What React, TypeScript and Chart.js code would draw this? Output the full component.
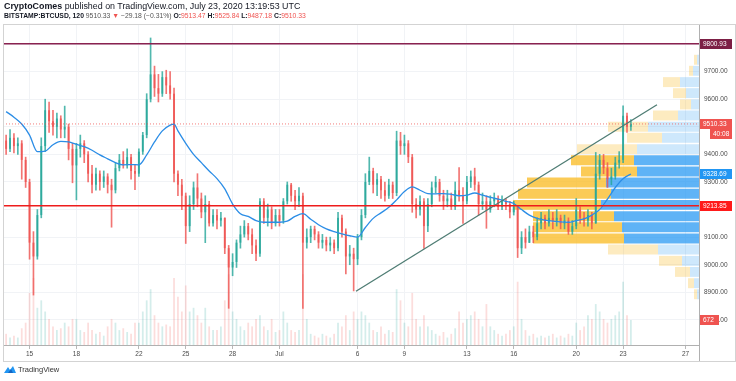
import React, { useEffect, useRef } from 'react';
import { Chart, registerables } from 'chart.js';

Chart.register(...registerables);

const FONT = '"Liberation Sans", Arial, sans-serif';

// ---- time axis (day numbers, June 1 = 1, July 1 = 31) ----
const xMin = 13.3;
const xMax = 57.86;
const dateTickDays = [15, 18, 22, 25, 28, 31, 36, 39, 43, 46, 50, 53, 57];
const dateTickLabels = ['15', '18', '22', '25', '28', 'Jul', '6', '9', '13', '16', '20', '23', '27'];

// ---- price axis ----
const yMin = 8709;
const yMax = 9869;
const priceTicks = [8800, 8900, 9000, 9100, 9200, 9300, 9400, 9500, 9600, 9700, 9800];
const hiddenPriceTicks = [9200, 9500, 9800];

// ---- candles (6h) ----
const candleStartDay = 13.5;
const candleStepDays = 0.25;
const firstOpen = 9450;
const closes = [
  9420, 9460,
  9430, 9440, 9380, 9300,
  9080, 9030, 9180, 9430,
  9560, 9520, 9500, 9530,
  9490, 9500, 9420, 9360,
  9420, 9440, 9400, 9330,
  9290, 9330, 9300, 9320,
  9290, 9270, 9350, 9380,
  9360, 9390, 9340, 9330,
  9410, 9470, 9600, 9690,
  9640, 9620, 9680, 9650,
  9620, 9330, 9290, 9250,
  9140, 9220, 9280, 9240,
  9190, 9220, 9150, 9180,
  9160, 9170, 9060, 8990,
  9010, 9080, 9110, 9140,
  9110, 9070, 9040, 9230,
  9170, 9200, 9150, 9180,
  9160, 9230, 9290, 9250,
  9230, 9250, 9080, 9100,
  9130, 9110, 9080, 9090,
  9070, 9080, 9060, 9170,
  9120, 9030, 9040, 9020,
  9100, 9180, 9300, 9340,
  9290, 9310, 9270, 9250,
  9290, 9260, 9450, 9430,
  9440, 9390, 9220, 9200,
  9230, 9140, 9220, 9280,
  9300, 9250, 9230, 9240,
  9210, 9270, 9250, 9230,
  9300, 9320, 9290, 9220,
  9230, 9200, 9230, 9240,
  9210, 9230, 9220, 9190,
  9210, 9060, 9100, 9080,
  9120, 9100, 9150, 9170,
  9150, 9170, 9160, 9170,
  9150, 9160, 9120, 9140,
  9200, 9170, 9160, 9180,
  9150, 9330, 9380, 9350,
  9310, 9320, 9370, 9380,
  9540, 9500, 9510.33,
];
const highs = [
  9470, 9490,
  9475, 9460, 9450, 9390,
  9310, 9120, 9200, 9460,
  9600, 9590, 9560, 9550,
  9540, 9575, 9510, 9440,
  9440, 9470, 9450, 9410,
  9360, 9350, 9340, 9340,
  9330, 9310, 9370, 9400,
  9410, 9420, 9400, 9360,
  9420, 9480, 9620, 9822,
  9720, 9690, 9700, 9705,
  9700, 9640, 9340, 9310,
  9260, 9250, 9300, 9330,
  9260, 9250, 9230, 9200,
  9200, 9190, 9170, 9070,
  9040, 9090, 9140, 9160,
  9150, 9130, 9090, 9240,
  9240, 9220, 9210, 9200,
  9200, 9240, 9300, 9295,
  9270, 9280, 9260, 9130,
  9140, 9140, 9120, 9110,
  9100, 9100, 9090, 9190,
  9180, 9130, 9070, 9060,
  9110, 9200, 9330, 9390,
  9350, 9330, 9320, 9300,
  9310, 9300, 9484, 9480,
  9470, 9450, 9400, 9240,
  9250, 9240, 9240, 9300,
  9320, 9310, 9270, 9270,
  9260, 9300, 9352, 9280,
  9320, 9340, 9350, 9300,
  9260, 9250, 9250, 9260,
  9250, 9250, 9240, 9230,
  9230, 9210, 9120, 9130,
  9140, 9140, 9170, 9190,
  9180, 9200, 9190, 9200,
  9180, 9180, 9170, 9160,
  9240, 9210, 9190, 9200,
  9190, 9407, 9400, 9400,
  9370, 9350, 9390, 9410,
  9576, 9550, 9525.84,
];
const lows = [
  9400, 9410,
  9405, 9400, 9310, 9280,
  9020, 8890, 9020, 9170,
  9410, 9480, 9470, 9460,
  9460, 9460, 9380, 9297,
  9235, 9390, 9370, 9300,
  9260, 9270, 9270, 9280,
  9260, 9136, 9260, 9340,
  9350, 9350, 9310, 9272,
  9320, 9400, 9460, 9590,
  9610, 9590, 9610, 9620,
  9600, 9300, 9250, 9200,
  9077, 9120, 9200, 9210,
  9170, 9080, 9140, 9140,
  9130, 9140, 9040, 8842,
  8960, 8990, 9060, 9100,
  9090, 9040, 9015, 9030,
  9150, 9140, 9130, 9140,
  9140, 9150, 9220, 9230,
  9200, 9210, 8842, 9060,
  9080, 9090, 9060, 9060,
  9050, 9050, 9040, 9050,
  9100, 8967, 9000, 8905,
  9000, 9090, 9170, 9290,
  9260, 9250, 9240, 9230,
  9240, 9240, 9250, 9400,
  9400, 9370, 9190, 9170,
  9180, 9059, 9120, 9210,
  9260, 9230, 9200, 9210,
  9200, 9200, 9230, 9150,
  9220, 9280, 9270, 9180,
  9200, 9132, 9190, 9210,
  9200, 9200, 9200, 9170,
  9180, 9026, 9040, 9060,
  9080, 9080, 9090, 9130,
  9130, 9140, 9130, 9140,
  9130, 9130, 9110, 9110,
  9130, 9150, 9140, 9140,
  9130, 9150, 9310, 9330,
  9280, 9290, 9310, 9350,
  9370, 9480, 9487.18,
];
const volumes = [
  300, 200,
  250, 200, 450, 600,
  1400, 1800, 1000, 1200,
  900, 700, 500, 400,
  450, 600, 500, 700,
  700, 400, 350, 600,
  400, 300, 350, 250,
  500, 700, 600, 400,
  450, 350, 300, 600,
  600, 900, 1200, 1500,
  800, 600, 500, 550,
  500, 1800, 1300, 900,
  1600, 900, 1000, 800,
  600, 1000, 500, 400,
  400, 500, 1200, 1900,
  900, 700, 500, 400,
  600, 500, 700, 800,
  500, 400, 700, 350,
  400, 900, 600, 400,
  350, 400, 1900, 700,
  300, 250, 200, 300,
  250, 200, 300, 600,
  500, 800, 400, 900,
  700, 900, 800, 600,
  400, 350, 500, 300,
  400, 350, 1500, 1200,
  600, 500, 1400, 700,
  500, 800, 500, 400,
  300, 250, 350, 200,
  300, 450, 900, 600,
  700, 800, 900, 700,
  500, 1100, 500, 400,
  300, 250, 300, 400,
  500, 1700, 700, 400,
  250, 300, 200, 250,
  200, 250, 300, 200,
  250, 200, 300, 250,
  600, 400, 500, 800,
  700, 1100, 900, 700,
  600, 700, 800, 900,
  1700, 800, 672,
];
const volumeMax = 8600;

// ---- moving average ----
const maDays = [
  13.5, 14, 14.5, 15, 15.5, 16, 16.5, 17, 17.5, 18, 18.5, 19, 19.5, 20, 20.5, 21, 21.5, 22, 22.5, 23, 23.5, 24, 24.25,
  24.5, 25, 25.5, 26, 26.5, 27, 27.5, 28, 28.5, 29, 29.5, 30, 30.5, 31, 31.5, 32, 32.5, 33, 33.5, 34, 34.5, 35, 35.5,
  36, 36.5, 37, 37.5, 38, 38.5, 39, 39.5, 40, 40.5, 41, 41.5, 42, 42.5, 43, 43.5, 44, 44.5, 45, 45.5, 46, 46.5, 47,
  47.5, 48, 48.5, 49, 49.5, 50, 50.5, 51, 51.5, 52, 52.5, 53, 53.5,
];
const maValues = [
  9555, 9535, 9510, 9470, 9410, 9412, 9435, 9447, 9445, 9436, 9428, 9415, 9398, 9384, 9370, 9362, 9363, 9362, 9398, 9445, 9485, 9506, 9510,
  9485, 9440, 9400, 9370, 9340, 9312, 9275, 9220, 9185, 9175, 9160, 9154, 9154, 9154, 9158, 9175, 9185, 9165, 9145, 9130, 9120, 9112, 9105,
  9100, 9135, 9168, 9188, 9208, 9235, 9265, 9282, 9270, 9258, 9257, 9258, 9255, 9250, 9252, 9260, 9252, 9244, 9238, 9230, 9222, 9200, 9180,
  9168, 9162, 9158, 9155, 9154, 9160, 9166, 9180, 9200, 9238, 9280, 9312, 9329,
];

// ---- drawn trend line ----
const trendDays = [35.9, 55.17];
const trendPrices = [8904, 9580];

// ---- levels & tags ----
const resistanceLevel = 9800.93;
const supportLevel = 9213.85;
const lastPrice = 9510.33;
const maLast = 9328.69;
const lastVolume = 672;
const countdown = '40:08';

// ---- visible range volume profile ----
const profilePrices = [9743, 9703, 9662, 9622, 9581, 9541, 9500, 9460, 9419, 9379, 9338, 9298, 9257, 9217, 9176, 9136, 9095, 9055, 9014, 8974, 8933, 8893];
const profileUp = [2, 6, 19, 13, 8, 21, 51, 37, 62, 65, 62, 93, 88, 98, 85, 77, 75, 41, 17, 9, 5, 2];
const profileDown = [3, 4, 17, 13, 11, 25, 40, 35, 60, 63, 56, 79, 93, 88, 81, 89, 91, 50, 23, 15, 6, 3];
const valueAreaLow = 9075;
const valueAreaHigh = 9400;
const profileScaleMax = 696;

export default function App() {
  const ref = useRef<HTMLCanvasElement>(null);

  useEffect(() => {
    const days = closes.map((_, i) => candleStartDay + i * candleStepDays);
    const opens = closes.map((_, i) => (i === 0 ? firstOpen : closes[i - 1]));
    const up = closes.map((c, i) => c >= opens[i]);
    const candleCol = up.map((u) => (u ? 'rgba(38,166,154,0.8)' : 'rgba(239,83,80,0.8)'));
    const volCol = up.map((u) => (u ? 'rgba(38,166,154,0.2)' : 'rgba(239,83,80,0.2)'));
    const hLine = (v: number) => [{ x: xMin, y: v }, { x: xMax, y: v }];
    const inVA = (p: number) => p >= valueAreaLow && p <= valueAreaHigh;

    const tagPlugin = {
      id: 'tags',
      afterDraw(chart: any) {
        const { ctx, chartArea } = chart;
        const ys = chart.scales.y;
        const yv = chart.scales.yv;
        const left = chartArea.right + 1;
        const tags = [
          { py: ys.getPixelForValue(resistanceLevel), text: resistanceLevel.toFixed(2), bg: '#7c1f45', dx: 0, w: 32 },
          { py: ys.getPixelForValue(lastPrice), text: lastPrice.toFixed(2), bg: '#ef5350', dx: 0, w: 32 },
          { py: ys.getPixelForValue(lastPrice) + 10, text: countdown, bg: '#ef5350', dx: 10, w: 22 },
          { py: ys.getPixelForValue(maLast), text: maLast.toFixed(2), bg: '#2196f3', dx: 0, w: 32 },
          { py: ys.getPixelForValue(supportLevel), text: supportLevel.toFixed(2), bg: '#ff1a1a', dx: 0, w: 32 },
          { py: yv.getPixelForValue(lastVolume), text: String(lastVolume), bg: '#ef5350', dx: 0, w: 19 },
        ];
        ctx.save();
        ctx.font = `6.5px ${FONT}`;
        ctx.textBaseline = 'middle';
        tags.forEach((t) => {
          ctx.fillStyle = t.bg;
          ctx.fillRect(left + t.dx, Math.round(t.py) - 5, t.w, 10);
          ctx.fillStyle = '#ffffff';
          ctx.fillText(t.text, left + t.dx + 3, Math.round(t.py) + 0.5);
        });
        ctx.restore();
      },
    };

    const chart = new Chart(ref.current as HTMLCanvasElement, {
      type: 'bar',
      data: {
        datasets: [
          { type: 'line', data: hLine(resistanceLevel), borderColor: '#8a2250', borderWidth: 1.5, pointRadius: 0, order: 0, xAxisID: 'x', yAxisID: 'y' },
          { type: 'line', data: hLine(supportLevel), borderColor: '#ee1c1c', borderWidth: 1.5, pointRadius: 0, order: 1, xAxisID: 'x', yAxisID: 'y' },
          { type: 'line', data: trendDays.map((d, i) => ({ x: d, y: trendPrices[i] })), borderColor: '#4f7d74', borderWidth: 1.3, pointRadius: 0, order: 2, xAxisID: 'x', yAxisID: 'y' },
          { type: 'line', data: hLine(lastPrice), borderColor: 'rgba(239,83,80,0.75)', borderWidth: 1, borderDash: [1, 2], pointRadius: 0, order: 3, xAxisID: 'x', yAxisID: 'y' },
          { type: 'line', data: maDays.map((d, i) => ({ x: d, y: maValues[i] })), borderColor: '#2b8de6', borderWidth: 1.3, pointRadius: 0, cubicInterpolationMode: 'monotone', order: 4, xAxisID: 'x', yAxisID: 'y' },
          {
            type: 'bar', data: days.map((d, i) => ({ x: d, y: [opens[i], closes[i]] })),
            backgroundColor: candleCol, borderWidth: 0, barPercentage: 0.5, categoryPercentage: 1, grouped: false, minBarLength: 1,
            order: 5, xAxisID: 'x', yAxisID: 'y',
          },
          {
            type: 'bar', data: days.map((d, i) => ({ x: d, y: [lows[i], highs[i]] })),
            backgroundColor: candleCol, borderWidth: 0, barThickness: 1, grouped: false,
            order: 6, xAxisID: 'x', yAxisID: 'y',
          },
          {
            type: 'bar', indexAxis: 'y', data: profilePrices.map((p, i) => ({ y: p, x: [0, profileUp[i]] })),
            backgroundColor: profilePrices.map((p) => (inVA(p) ? 'rgba(33,150,243,0.72)' : 'rgba(33,150,243,0.22)')),
            borderWidth: 0, barPercentage: 1, categoryPercentage: 0.9, grouped: false,
            order: 7, xAxisID: 'xp', yAxisID: 'yp',
          },
          {
            type: 'bar', indexAxis: 'y', data: profilePrices.map((p, i) => ({ y: p, x: [profileUp[i], profileUp[i] + profileDown[i]] })),
            backgroundColor: profilePrices.map((p) => (inVA(p) ? 'rgba(250,190,45,0.8)' : 'rgba(250,190,45,0.3)')),
            borderWidth: 0, barPercentage: 1, categoryPercentage: 0.9, grouped: false,
            order: 8, xAxisID: 'xp', yAxisID: 'yp',
          },
          {
            type: 'bar', data: days.map((d, i) => ({ x: d, y: volumes[i] })),
            backgroundColor: volCol, borderWidth: 0, barPercentage: 0.45, categoryPercentage: 1, grouped: false,
            order: 9, xAxisID: 'x', yAxisID: 'yv',
          },
        ] as any,
      },
      options: {
        responsive: false,
        animation: false,
        events: [],
        layout: { padding: { top: 25, left: 3, right: 0, bottom: 0 } },
        plugins: { legend: { display: false }, tooltip: { enabled: false } },
        scales: {
          x: {
            type: 'linear', position: 'bottom', min: xMin, max: xMax, offset: false,
            afterBuildTicks: (s: any) => { s.ticks = dateTickDays.map((v) => ({ value: v })); },
            afterFit: (s: any) => { s.height = 36; },
            ticks: {
              autoSkip: false, maxRotation: 0, padding: 1, color: '#4a4a4a',
              font: { size: 6.5, family: FONT },
              callback: (_v: any, i: number) => dateTickLabels[i] ?? '',
            },
            grid: { color: '#f1f3f6', tickColor: '#b8b8b8', tickLength: 4, offset: false },
            border: { color: '#b0b0b0' },
          },
          xp: { type: 'linear', axis: 'x', display: false, reverse: true, min: 0, max: profileScaleMax, offset: false },
          y: {
            type: 'linear', position: 'right', min: yMin, max: yMax, offset: false,
            afterBuildTicks: (s: any) => { s.ticks = priceTicks.map((v) => ({ value: v })); },
            afterFit: (s: any) => { s.width = 37; },
            ticks: {
              padding: 5, color: '#4a4a4a', font: { size: 6.5, family: FONT },
              callback: (v: any) => (hiddenPriceTicks.includes(Number(v)) ? '' : Number(v).toFixed(2)),
            },
            grid: { color: '#f1f3f6', drawTicks: false },
            border: { color: '#b0b0b0' },
          },
          yp: { type: 'linear', axis: 'y', display: false, min: yMin, max: yMax, offset: false },
          yv: { type: 'linear', axis: 'y', display: false, min: 0, max: volumeMax, offset: false },
        } as any,
      },
      plugins: [tagPlugin],
    } as any);
    return () => chart.destroy();
  }, []);

  const red = { color: '#ef5350' };
  return (
    <div style={{ position: 'absolute', left: 0, top: 0, width: 736, height: 381, background: '#fff', fontFamily: FONT, color: '#131722' }}>
      <canvas ref={ref} width={736} height={381} style={{ position: 'absolute', left: 0, top: 0, width: 736, height: 381 }} />
      <div style={{ position: 'absolute', left: 3, top: 24, width: 731, height: 336, border: '1px solid #d3d3d3', pointerEvents: 'none' }} />
      <div style={{ position: 'absolute', left: 699, top: 345, width: 1, height: 16, background: '#b0b0b0' }} />
      <div style={{ position: 'absolute', left: 4, top: 1, fontSize: 8.9, lineHeight: '10px', whiteSpace: 'nowrap' }}>
        <b>CryptoComes</b> published on TradingView.com, July 23, 2020 13:19:53 UTC
      </div>
      <div style={{ position: 'absolute', left: 4, top: 11, fontSize: 6.8, lineHeight: '10px', whiteSpace: 'nowrap' }}>
        <b>BITSTAMP:BTCUSD, 120</b> <span style={{ color: '#555' }}>9510.33</span> <span style={red}>▼</span>{' '}
        <span style={{ color: '#555' }}>−29.18 (−0.31%)</span> <b>O:</b><span style={red}>9513.47</span>{' '}
        <b>H:</b><span style={red}>9525.84</span> <b>L:</b><span style={red}>9487.18</span>{' '}
        <b>C:</b><span style={red}>9510.33</span>
      </div>
      <div style={{ position: 'absolute', left: 4, top: 365, display: 'flex', alignItems: 'center', gap: 2 }}>
        <svg width="12" height="9" viewBox="0 0 12 9">
          <path d="M0 8 L4 2 L6 5 L9 1 L12 8 Z" fill="#2196f3" />
          <path d="M4 8 L7 4 L9 8 Z" fill="#1565c0" />
        </svg>
        <span style={{ fontSize: 7.5, color: '#333' }}>TradingView</span>
      </div>
    </div>
  );
}
